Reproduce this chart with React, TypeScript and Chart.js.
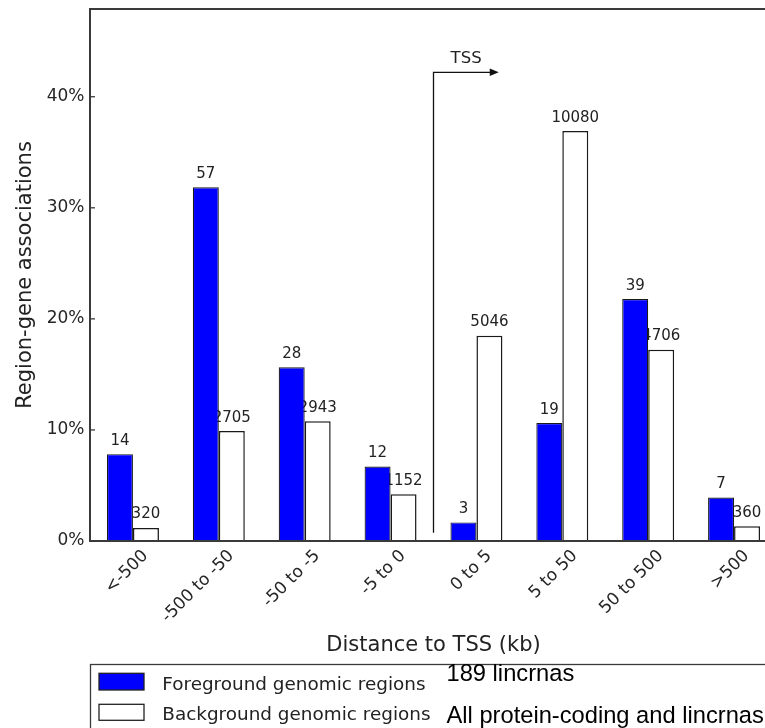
import { useEffect, useRef } from 'react';
import { Chart, registerables } from 'chart.js';

Chart.register(...registerables);

// Distance bins (kb) relative to the transcription start site
const CATEGORIES = ['<-500', '-500 to -50', '-50 to -5', '-5 to 0', '0 to 5', '5 to 50', '50 to 500', '>500'];
// Region-gene association counts per bin
const FOREGROUND_COUNTS = [14, 57, 28, 12, 3, 19, 39, 7];
const BACKGROUND_COUNTS = [320, 2705, 2943, 1152, 5046, 10080, 4706, 360];
const SERIES_LABELS = ['Foreground genomic regions', 'Background genomic regions'];
const SERIES_NOTES = ['189 lincrnas', 'All protein-coding and lincrnas'];
const Y_TICKS = [0, 10, 20, 30, 40];
const Y_MAX = 47.9;

// TSS marker: starts where the first downstream bin begins
const TSS_BIN = '0 to 5';
const TSS_TOP = 42.2;
const TSS_BOTTOM = 0.75;
const TSS_ARROW_SPAN = 0.76;

const FONT = '"DejaVu Sans"';
const INK = '#222';
const SPINE = '#3a3a3a';

const toShare = (counts: number[]) => {
  const total = counts.reduce((a, b) => a + b, 0);
  return counts.map((c) => (c / total) * 100);
};

const valueLabels = {
  id: 'valueLabels',
  beforeDatasetsDraw(chart: any) {
    const ctx = chart.ctx;
    ctx.save();
    ctx.font = `15px ${FONT}`;
    ctx.fillStyle = INK;
    ctx.textAlign = 'center';
    ctx.textBaseline = 'alphabetic';
    chart.data.datasets.forEach((ds: any, di: number) => {
      const meta = chart.getDatasetMeta(di);
      meta.data.forEach((bar: any, i: number) => {
        ctx.fillText(String(ds.counts[i]), bar.x, bar.y - 9.5);
      });
    });
    ctx.restore();
  },
};

const frameAndMarker = {
  id: 'frameAndMarker',
  afterDatasetsDraw(chart: any) {
    const ctx = chart.ctx;
    const { left, right, top, bottom } = chart.chartArea;
    const { x, y } = chart.scales;
    ctx.save();
    // axes frame
    ctx.strokeStyle = SPINE;
    ctx.lineWidth = 2;
    ctx.beginPath();
    ctx.moveTo(left, bottom);
    ctx.lineTo(left, top);
    ctx.lineTo(right, top);
    ctx.lineTo(right, bottom);
    ctx.closePath();
    ctx.stroke();
    // inward y ticks
    ctx.lineWidth = 1.3;
    Y_TICKS.forEach((v) => {
      const py = y.getPixelForValue(v);
      ctx.beginPath();
      ctx.moveTo(left, py);
      ctx.lineTo(left + 5, py);
      ctx.stroke();
    });

    // TSS bent arrow
    const idx = CATEGORIES.indexOf(TSS_BIN);
    const xm = (x.getPixelForValue(idx - 1) + x.getPixelForValue(idx)) / 2;
    const step = x.getPixelForValue(1) - x.getPixelForValue(0);
    const yTop = y.getPixelForValue(TSS_TOP);
    const yBot = y.getPixelForValue(TSS_BOTTOM);
    const xEnd = xm + step * TSS_ARROW_SPAN;
    ctx.strokeStyle = '#111';
    ctx.fillStyle = '#111';
    ctx.lineWidth = 1.3;
    ctx.beginPath();
    ctx.moveTo(xm, yBot);
    ctx.lineTo(xm, yTop);
    ctx.lineTo(xEnd - 8, yTop);
    ctx.stroke();
    ctx.beginPath();
    ctx.moveTo(xEnd, yTop);
    ctx.lineTo(xEnd - 9, yTop - 3.8);
    ctx.lineTo(xEnd - 9, yTop + 3.8);
    ctx.closePath();
    ctx.fill();
    ctx.font = `16.5px ${FONT}`;
    ctx.fillStyle = INK;
    ctx.textAlign = 'center';
    ctx.textBaseline = 'alphabetic';
    ctx.fillText('TSS', (xm + xEnd) / 2, yTop - 9.7);
    ctx.restore();
  },
};

const boxedLegend = {
  id: 'boxedLegend',
  afterDraw(chart: any) {
    const ctx = chart.ctx;
    const left = chart.chartArea.left;
    const boxTop = 664.5;
    ctx.save();
    ctx.strokeStyle = SPINE;
    ctx.lineWidth = 1.3;
    ctx.strokeRect(left + 0.5, boxTop, chart.width, 120);
    const rows = [
      { swatchTop: 673.3, swatchH: 16.7, textBase: 690, noteBase: 680.7 },
      { swatchTop: 704.3, swatchH: 16, textBase: 720, noteBase: 723 },
    ];
    chart.data.datasets.forEach((ds: any, i: number) => {
      const r = rows[i];
      ctx.fillStyle = ds.backgroundColor;
      ctx.strokeStyle = '#222';
      ctx.lineWidth = 1.3;
      ctx.fillRect(left + 9, r.swatchTop, 45, r.swatchH);
      ctx.strokeRect(left + 9, r.swatchTop, 45, r.swatchH);
      ctx.fillStyle = INK;
      ctx.textAlign = 'left';
      ctx.textBaseline = 'alphabetic';
      ctx.font = `18.4px ${FONT}`;
      ctx.fillText(ds.label, left + 72.3, r.textBase);
      ctx.fillStyle = '#000';
      ctx.font = '23.7px "Liberation Sans"';
      ctx.fillText(SERIES_NOTES[i], 446.5, r.noteBase);
    });
    ctx.restore();
  },
};

export default function App() {
  const canvasRef = useRef<HTMLCanvasElement | null>(null);

  useEffect(() => {
    const canvas = canvasRef.current;
    if (!canvas) return;
    const chart = new Chart(canvas, {
      type: 'bar',
      data: {
        labels: CATEGORIES,
        datasets: [
          {
            label: SERIES_LABELS[0],
            data: toShare(FOREGROUND_COUNTS),
            counts: FOREGROUND_COUNTS,
            backgroundColor: '#0000ff',
            borderColor: '#1a1a1a',
            borderWidth: 1.2,
            categoryPercentage: 0.605,
            barPercentage: 1,
          } as any,
          {
            label: SERIES_LABELS[1],
            data: toShare(BACKGROUND_COUNTS),
            counts: BACKGROUND_COUNTS,
            backgroundColor: '#ffffff',
            borderColor: '#1a1a1a',
            borderWidth: 1.5,
            categoryPercentage: 0.605,
            barPercentage: 1,
          } as any,
        ],
      },
      options: {
        responsive: false,
        animation: false,
        devicePixelRatio: 1,
        layout: { padding: { left: 0, top: 9, right: 3, bottom: 0 } },
        plugins: { legend: { display: false }, tooltip: { enabled: false } },
        scales: {
          x: {
            type: 'category',
            offset: true,
            grid: { display: false, drawTicks: false },
            border: { display: false },
            ticks: {
              autoSkip: false,
              minRotation: 45,
              maxRotation: 45,
              padding: 5,
              labelOffset: 12.5,
              color: '#262626',
              font: { family: FONT, size: 17 },
            },
            title: {
              display: true,
              text: 'Distance to TSS (kb)',
              color: INK,
              font: { family: FONT, size: 21 },
              padding: { top: 0, bottom: 70 },
            },
            afterFit: (s: any) => {
              s.height = 187;
              s.paddingLeft = 0;
              s.paddingRight = 0;
            },
          },
          y: {
            min: 0,
            max: Y_MAX,
            afterBuildTicks: (s: any) => {
              s.ticks = Y_TICKS.map((v) => ({ value: v }));
            },
            grid: { display: false, drawTicks: false },
            border: { display: false },
            ticks: {
              padding: 5.5,
              color: '#262626',
              font: { family: FONT, size: 17 },
              callback: (v: any) => `${v}%`,
            },
            title: {
              display: true,
              text: 'Region-gene associations',
              color: INK,
              font: { family: FONT, size: 21 },
              padding: { top: 13, bottom: 0 },
            },
            afterFit: (s: any) => {
              s.width = 90;
              s.paddingTop = 0;
              s.paddingBottom = 0;
            },
          },
        },
      },
      plugins: [valueLabels, frameAndMarker, boxedLegend],
    });
    return () => chart.destroy();
  }, []);

  return (
    <div
      style={{
        position: 'fixed',
        left: 0,
        top: 0,
        width: 765,
        height: 728,
        overflow: 'hidden',
        background: '#fff',
      }}
    >
      <canvas ref={canvasRef} width={780} height={728} style={{ display: 'block' }} />
    </div>
  );
}
